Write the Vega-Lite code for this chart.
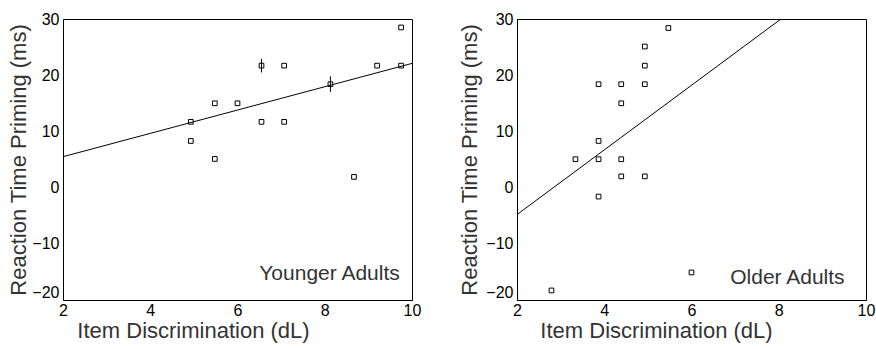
{
  "$schema": "https://vega.github.io/schema/vega-lite/v6.json",
  "background": "white",
  "padding": {"left": 7, "top": 10, "right": 0, "bottom": 5},
  "spacing": 36,
  "datasets": {
    "young": [
      {"d": 4.93, "rt": 11.7}, {"d": 4.93, "rt": 8.3}, {"d": 5.48, "rt": 15.0}, {"d": 5.48, "rt": 5.1},
      {"d": 6.0, "rt": 15.0}, {"d": 6.55, "rt": 21.7}, {"d": 6.55, "rt": 11.7}, {"d": 7.07, "rt": 21.7},
      {"d": 7.07, "rt": 11.7}, {"d": 8.13, "rt": 18.4}, {"d": 8.67, "rt": 1.9}, {"d": 9.2, "rt": 21.7},
      {"d": 9.75, "rt": 28.5}, {"d": 9.75, "rt": 21.7}
    ],
    "young_err": [
      {"d": 6.55, "lo": 20.5, "hi": 22.9},
      {"d": 8.13, "lo": 17.0, "hi": 19.8}
    ],
    "young_fit": [{"d": 2, "rt": 5.5}, {"d": 10, "rt": 22.1}],
    "young_lab": [{"d": 9.72, "rt": -16.4, "label": "Younger Adults"}],
    "old": [
      {"d": 5.47, "rt": 28.4}, {"d": 4.93, "rt": 25.1}, {"d": 4.93, "rt": 21.7}, {"d": 4.93, "rt": 18.4},
      {"d": 4.39, "rt": 18.4}, {"d": 3.87, "rt": 18.4}, {"d": 4.39, "rt": 15.0}, {"d": 3.87, "rt": 8.3},
      {"d": 3.34, "rt": 5.05}, {"d": 3.87, "rt": 5.05}, {"d": 4.39, "rt": 5.05}, {"d": 4.39, "rt": 2.0},
      {"d": 4.93, "rt": 2.0}, {"d": 3.87, "rt": -1.6}, {"d": 2.79, "rt": -18.3}, {"d": 6.0, "rt": -15.1}
    ],
    "old_fit": [{"d": 2, "rt": -4.8}, {"d": 8.05, "rt": 30}],
    "old_lab": [{"d": 9.51, "rt": -17.1, "label": "Older Adults"}]
  },
  "config": {
    "font": "Liberation Sans",
    "view": {"stroke": "black", "strokeWidth": 1},
    "axis": {
      "grid": false,
      "ticks": false,
      "labelFlush": false,
      "domainColor": "black",
      "domainWidth": 1,
      "labelFont": "Liberation Sans",
      "labelFontSize": 16,
      "labelColor": "black",
      "titleFont": "Liberation Sans",
      "titleFontSize": 22,
      "titleFontWeight": "normal",
      "titleColor": "#333"
    }
  },
  "hconcat": [
    {
      "width": 349,
      "height": 281,
      "layer": [
        {
          "data": {"name": "young_fit"},
          "mark": {"type": "line", "color": "black", "strokeWidth": 1},
          "encoding": {
            "x": {"field": "d", "type": "quantitative", "scale": {"domain": [2, 10]},
              "axis": {"values": [2, 4, 6, 8, 10], "title": "Item Discrimination (dL)", "labelPadding": 2, "titlePadding": 2, "titleX": 130}},
            "y": {"field": "rt", "type": "quantitative", "scale": {"domain": [-20, 30]},
              "axis": {"values": [-20, -10, 0, 10, 20, 30], "title": "Reaction Time Priming (ms)", "labelPadding": 4, "titlePadding": 1,
                "labelBaseline": {"condition": {"test": "datum.value == -20", "value": "bottom"}, "value": "middle"}}}
          }
        },
        {
          "data": {"name": "young_err"},
          "mark": {"type": "rule", "color": "black", "strokeWidth": 1},
          "encoding": {
            "x": {"field": "d", "type": "quantitative"},
            "y": {"field": "lo", "type": "quantitative"},
            "y2": {"field": "hi"}
          }
        },
        {
          "data": {"name": "young"},
          "mark": {"type": "point", "shape": "square", "filled": false, "color": "black", "size": 22, "strokeWidth": 1, "opacity": 1},
          "encoding": {
            "x": {"field": "d", "type": "quantitative"},
            "y": {"field": "rt", "type": "quantitative"}
          }
        },
        {
          "data": {"name": "young_lab"},
          "mark": {"type": "text", "align": "right", "baseline": "alphabetic", "fontSize": 21, "font": "Liberation Sans", "color": "#333"},
          "encoding": {
            "x": {"field": "d", "type": "quantitative"},
            "y": {"field": "rt", "type": "quantitative"},
            "text": {"field": "label"}
          }
        }
      ]
    },
    {
      "width": 349,
      "height": 281,
      "layer": [
        {
          "data": {"name": "old_fit"},
          "mark": {"type": "line", "color": "black", "strokeWidth": 1, "clip": true},
          "encoding": {
            "x": {"field": "d", "type": "quantitative", "scale": {"domain": [2, 10]},
              "axis": {"values": [2, 4, 6, 8, 10], "title": "Item Discrimination (dL)", "labelPadding": 2, "titlePadding": 2, "titleX": 139}},
            "y": {"field": "rt", "type": "quantitative", "scale": {"domain": [-20, 30]},
              "axis": {"values": [-20, -10, 0, 10, 20, 30], "title": "Reaction Time Priming (ms)", "labelPadding": 4, "titlePadding": 4,
                "labelBaseline": {"condition": {"test": "datum.value == -20", "value": "bottom"}, "value": "middle"}}}
          }
        },
        {
          "data": {"name": "old"},
          "mark": {"type": "point", "shape": "square", "filled": false, "color": "black", "size": 22, "strokeWidth": 1, "opacity": 1},
          "encoding": {
            "x": {"field": "d", "type": "quantitative"},
            "y": {"field": "rt", "type": "quantitative"}
          }
        },
        {
          "data": {"name": "old_lab"},
          "mark": {"type": "text", "align": "right", "baseline": "alphabetic", "fontSize": 21, "font": "Liberation Sans", "color": "#333"},
          "encoding": {
            "x": {"field": "d", "type": "quantitative"},
            "y": {"field": "rt", "type": "quantitative"},
            "text": {"field": "label"}
          }
        }
      ]
    }
  ]
}
